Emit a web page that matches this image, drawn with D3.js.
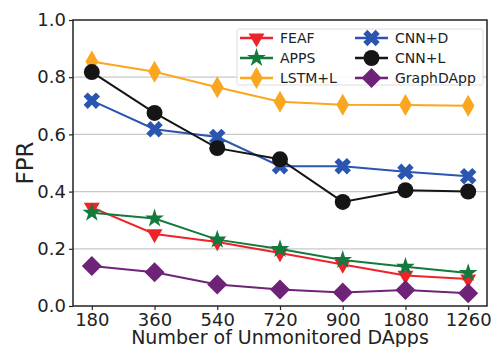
<!DOCTYPE html>
<html>
<head>
<meta charset="utf-8">
<script src="https://cdn.jsdelivr.net/npm/d3@7"></script>
<style>
  body { margin: 0; background: #fff; }
  text { font-family: "DejaVu Sans", sans-serif; fill: #222; }
</style>
</head>
<body>
<div id="chart"></div>
<script>
const apps = [180, 360, 540, 720, 900, 1080, 1260];
const yTicks = [0.0, 0.2, 0.4, 0.6, 0.8, 1.0];

const feaf = [0.345, 0.252, 0.224, 0.185, 0.145, 0.107, 0.094];
const appsFpr = [0.326, 0.306, 0.232, 0.199, 0.161, 0.137, 0.115];
const lstmL = [0.855, 0.819, 0.765, 0.714, 0.704, 0.703, 0.700];
const cnnD = [0.718, 0.618, 0.591, 0.489, 0.489, 0.469, 0.454];
const cnnL = [0.818, 0.675, 0.552, 0.513, 0.364, 0.405, 0.400];
const graphDApp = [0.140, 0.118, 0.075, 0.058, 0.047, 0.056, 0.045];

const series = [
  {name: "FEAF", values: feaf, color: "#ee2229", marker: "tri"},
  {name: "APPS", values: appsFpr, color: "#127a3c", marker: "star"},
  {name: "LSTM+L", values: lstmL, color: "#fba61f", marker: "thin"},
  {name: "CNN+D", values: cnnD, color: "#2a55b0", marker: "x"},
  {name: "CNN+L", values: cnnL, color: "#151515", marker: "circle"},
  {name: "GraphDApp", values: graphDApp, color: "#6e2378", marker: "diamond"}
];

const W = 492, H = 347;
const margin = {top: 20, right: 5, bottom: 41, left: 73};
const width = W - margin.left - margin.right,
  height = H - margin.top - margin.bottom;

const svg = d3.select("#chart").append("svg")
  .attr("width", W)
  .attr("height", H);

const g = svg.append("g")
  .attr("transform", `translate(${margin.left},${margin.top})`);

const x = d3.scaleLinear()
  .domain([180 - 54, 1260 + 54])
  .range([0, width]);
const y = d3.scaleLinear([0, 1], [height, 0]);

// grid
g.append("g")
  .selectAll("line")
  .data(yTicks.slice(1, -1))
  .join("line")
    .attr("x1", 0).attr("x2", width)
    .attr("y1", d => y(d)).attr("y2", d => y(d))
    .attr("stroke", "#c8c8c8")
    .attr("stroke-width", 1.2);

// axes
g.append("g")
  .attr("transform", `translate(0,${height})`)
  .call(d3.axisBottom(x).tickValues(apps).tickFormat(d3.format("d")).tickSize(4).tickPadding(3))
  .call(a => a.select(".domain").remove())
  .call(a => a.selectAll("line").attr("stroke", "#222").attr("stroke-width", 1.2))
  .call(a => a.selectAll("text").style("font-size", "18px").attr("fill", "#222"));

g.append("g")
  .call(d3.axisLeft(y).tickValues(yTicks).tickFormat(d3.format(".1f")).tickSize(4).tickPadding(3))
  .call(a => a.select(".domain").remove())
  .call(a => a.selectAll("line").attr("stroke", "#222").attr("stroke-width", 1.2))
  .call(a => a.selectAll("text").style("font-size", "18px").attr("fill", "#222"));

function markerPath(type) {
  switch (type) {
    case "tri": return d3.symbol(d3.symbolTriangle, 110)();
    case "star": return d3.symbol(d3.symbolStar, 110)();
    case "thin": return d3.symbol(d3.symbolDiamond, 140)();
    case "x": return d3.symbol(d3.symbolCross, 170)();
    case "circle": return d3.symbol(d3.symbolCircle, 200)();
    case "diamond": return d3.symbol(d3.symbolSquare, 200)();
  }
}
function markerRot(type) {
  if (type === "tri") return " rotate(180)";
  if (type === "x" || type === "diamond") return " rotate(45)";
  return "";
}

const line = d3.line()
  .x((d, i) => x(apps[i]))
  .y(d => y(d));

const sg = g.append("g")
  .selectAll("g")
  .data(series)
  .join("g");

sg.append("path")
  .attr("d", d => line(d.values))
  .attr("fill", "none")
  .attr("stroke", d => d.color)
  .attr("stroke-width", 2);

sg.each(function (s) {
  d3.select(this).selectAll("path.m")
    .data(s.values)
    .join("path")
      .attr("class", "m")
      .attr("d", markerPath(s.marker))
      .attr("transform", (d, i) => `translate(${x(apps[i])},${y(d)})` + markerRot(s.marker))
      .attr("fill", s.color);
});

// frame
g.append("rect")
  .attr("width", width)
  .attr("height", height)
  .attr("fill", "none")
  .attr("stroke", "#222")
  .attr("stroke-width", 1.5);

// labels
svg.append("text")
  .attr("x", margin.left + width / 2)
  .attr("y", 344)
  .attr("text-anchor", "middle")
  .style("font-size", "19px")
  .text("Number of Unmonitored DApps");

svg.append("text")
  .attr("transform", `translate(33,${margin.top + height / 2}) rotate(-90)`)
  .attr("text-anchor", "middle")
  .style("font-size", "23px")
  .text("FPR");

// legend
const legend = svg.append("g");
legend.append("rect")
  .attr("x", 237).attr("y", 29)
  .attr("width", 246).attr("height", 56)
  .attr("rx", 2)
  .attr("fill", "#fff")
  .attr("fill-opacity", 0.85)
  .attr("stroke", "#ddd");

const item = legend.selectAll("g")
  .data(series)
  .join("g")
    .attr("transform", (d, i) => `translate(${i < 3 ? 240 : 355},${38 + (i % 3) * 20})`);

item.append("line")
  .attr("x1", 0).attr("x2", 33)
  .attr("stroke", d => d.color)
  .attr("stroke-width", 2.5);
item.append("path")
  .attr("d", d => markerPath(d.marker))
  .attr("transform", d => "translate(16.5,0)" + markerRot(d.marker))
  .attr("fill", d => d.color);
item.append("text")
  .attr("x", 40)
  .attr("dy", "0.36em")
  .style("font-size", "14px")
  .text(d => d.name);
</script>
</body>
</html>
